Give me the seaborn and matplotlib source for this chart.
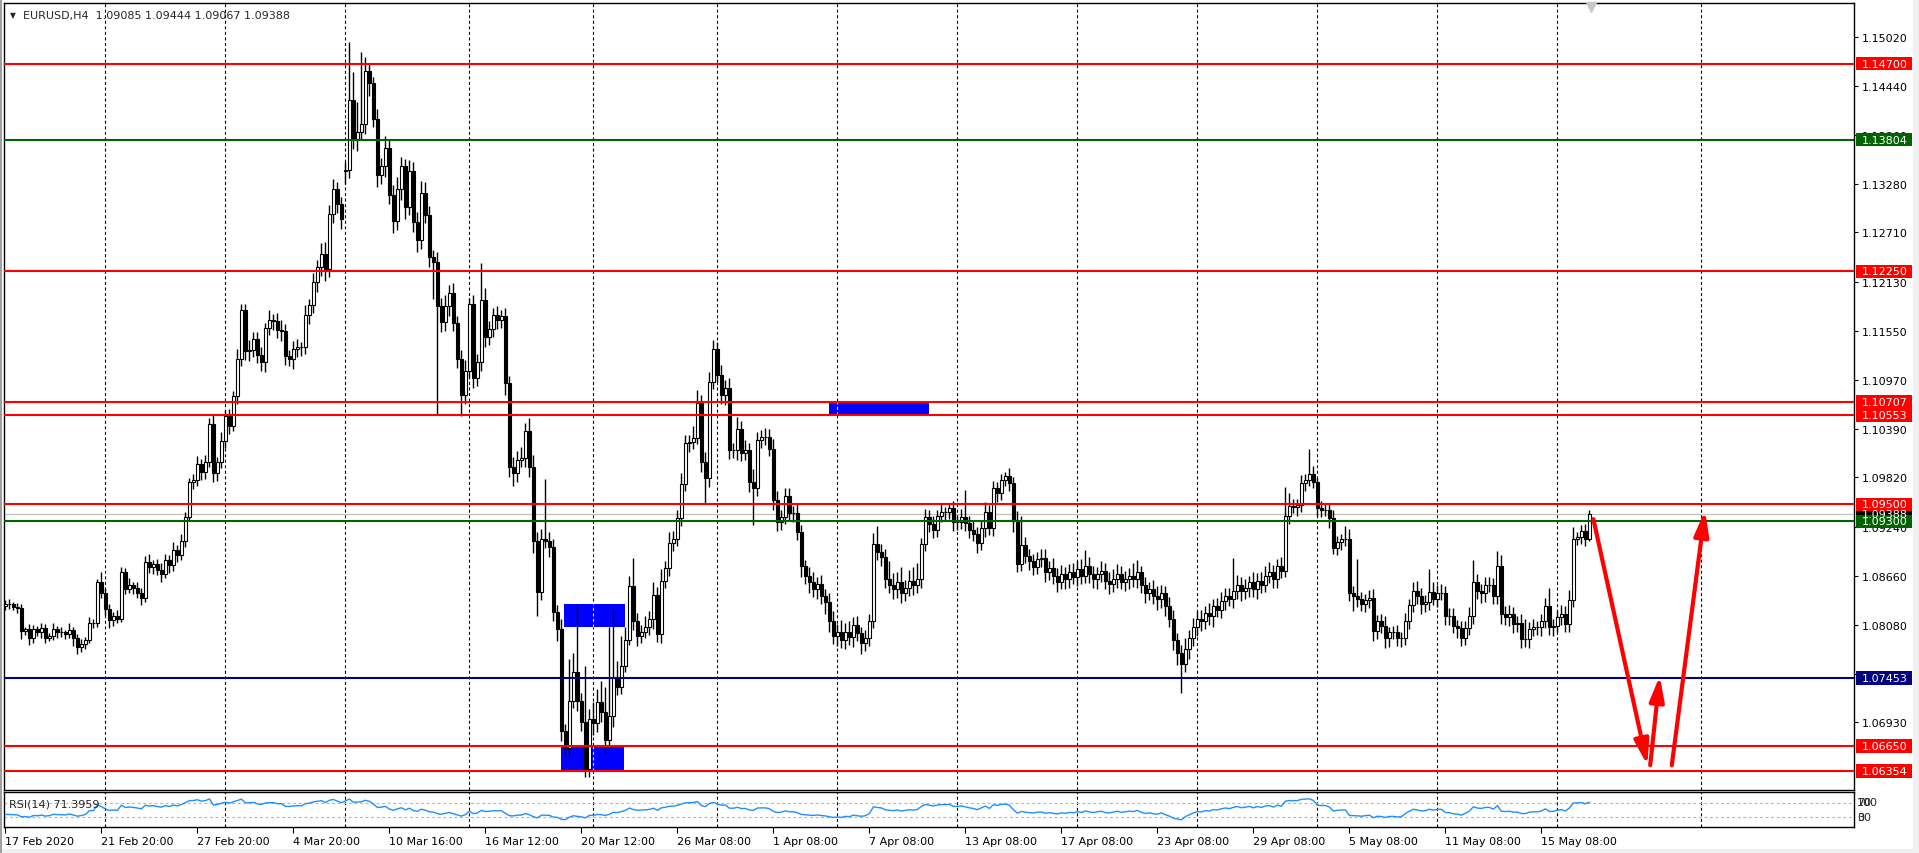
import numpy as np
import matplotlib
matplotlib.use("Agg")
import matplotlib.pyplot as plt
import matplotlib.transforms as mtransforms
from matplotlib.patches import Rectangle
import seaborn as sns

W, H = 1919, 854

# -- H4 candles, values in pips above 1.00000 (first bar is cut by the left edge) --
first_bar = -1
first_open = 830
gap_opens = {84: 1343}

close = [
    833, 832, 829, 828, 801, 803, 792, 803, 800, 804,
    793, 795, 803, 800, 799, 797, 802, 792, 782, 785,
    790, 810, 810, 858, 846, 827, 814, 819, 815, 870,
    850, 855, 852, 846, 840, 882, 876, 880, 873, 868,
    885, 879, 896, 890, 907, 935, 976, 979, 998, 988,
    1000, 1045, 987, 1000, 1025, 1054, 1043, 1078, 1122, 1179,
    1131, 1132, 1145, 1126, 1118, 1158, 1168, 1167, 1156, 1155,
    1125, 1122, 1133, 1136, 1136, 1173, 1185, 1213, 1230, 1245,
    1228, 1293, 1322, 1304, 1287, 1345, 1427, 1381, 1390, 1399,
    1462, 1447, 1405, 1339, 1349, 1371, 1315, 1285, 1322, 1349,
    1301, 1344, 1283, 1262, 1317, 1292, 1242, 1236, 1184, 1165,
    1184, 1200, 1164, 1122, 1079, 1108, 1187, 1099, 1118, 1191,
    1148, 1157, 1173, 1168, 1172, 1093, 994, 987, 1003, 1005,
    1037, 994, 907, 847, 909, 907, 900, 823, 803, 683,
    663, 718, 752, 718, 693, 638, 697, 692, 717, 705,
    672, 700, 745, 735, 760, 790, 854, 812, 795, 800,
    806, 815, 843, 797, 860, 875, 905, 909, 934, 974,
    1022, 1024, 1029, 1070, 1000, 981, 1095, 1134, 1103, 1079,
    1088, 1014, 1014, 1039, 1011, 1014, 977, 970, 1026, 1030,
    1030, 1015, 955, 929, 935, 960, 940, 940, 917, 877,
    866, 858, 850, 856, 842, 835, 812, 795, 800, 790,
    800, 794, 808, 798, 787, 792, 812, 903, 894, 888,
    862, 855, 850, 858, 845, 852, 860, 855, 862, 903,
    935, 927, 920, 936, 941, 941, 946, 929, 929, 935,
    928, 920, 915, 905, 922, 941, 922, 969, 963, 979,
    984, 975, 930, 880, 902, 889, 883, 876, 886, 887,
    870, 875, 866, 858, 868, 862, 870, 865, 874, 866,
    878, 868, 862, 868, 872, 860, 856, 862, 868, 858,
    862, 866, 862, 870, 855, 846, 850, 842, 838, 845,
    830, 815, 790, 775, 762, 780, 792, 805, 815, 812,
    822, 818, 830, 826, 836, 842, 838, 848, 855, 848,
    852, 858, 850, 860, 855, 866, 870, 862, 878, 872,
    936, 948, 947, 949, 975, 979, 986, 977, 946, 944,
    944, 934, 899, 906, 909, 909, 845, 842, 839, 833,
    837, 840, 801, 812, 807, 792, 799, 799, 792, 793,
    813, 831, 848, 842, 833, 835, 847, 839, 846, 846,
    819, 818, 807, 804, 793, 804, 819, 859, 848, 845,
    855, 855, 842, 878, 821, 817, 821, 809, 810, 791,
    791, 803, 806, 805, 812, 830, 805, 807, 817, 821,
    809, 837, 909, 912, 919, 909, 939,
]

wick_up = [
    4, 6, 3, 5, 4, 3, 6, 5, 4, 6,
    5, 3, 7, 4, 5, 3, 8, 4, 5, 6,
    4, 7, 5, 4, 12, 5, 6, 4, 7, 6,
    5, 8, 4, 6, 5, 7, 9, 5, 6, 8,
    7, 5, 10, 6, 8, 6, 5, 7, 9, 6,
    8, 7, 12, 6, 10, 8, 9, 6, 11, 8,
    7, 12, 9, 8, 10, 6, 11, 7, 9, 12,
    8, 7, 10, 9, 6, 12, 8, 10, 9, 14,
    15, 10, 12, 8, 9, 9, 69, 33, 35, 85,
    16, 9, 8, 12, 10, 14, 9, 12, 15, 11,
    9, 13, 10, 12, 15, 14, 10, 8, 12, 10,
    13, 9, 11, 8, 10, 12, 7, 10, 9, 44,
    14, 10, 9, 11, 8, 10, 9, 12, 10, 13,
    9, 15, 14, 10, 12, 71, 10, 9, 8, 12,
    8, 50, 23, 79, 10, 67, 12, 20, 15, 25,
    30, 105, 82, 20, 35, 15, 12, 33, 10, 8,
    12, 9, 15, 10, 14, 8, 12, 10, 9, 13,
    10, 8, 14, 15, 9, 12, 11, 10, 8, 12,
    9, 11, 8, 14, 10, 12, 9, 15, 10, 8,
    10, 9, 12, 11, 9, 9, 10, 8, 11, 9,
    8, 10, 12, 9, 11, 8, 10, 12, 9, 14,
    10, 12, 9, 11, 8, 10, 9, 13, 22, 9,
    10, 21, 14, 12, 18, 9, 13, 16, 19, 8,
    10, 8, 9, 7, 9, 6, 6, 8, 9, 10,
    32, 8, 10, 9, 10, 12, 8, 9, 8, 7,
    4, 9, 8, 12, 35, 10, 8, 9, 8, 10,
    10, 8, 12, 9, 11, 8, 10, 11, 9, 12,
    18, 10, 9, 8, 11, 9, 10, 12, 12, 9,
    10, 9, 15, 15, 8, 10, 9, 11, 12, 10,
    9, 11, 10, 8, 9, 12, 10, 11, 9, 10,
    8, 12, 9, 10, 11, 9, 10, 39, 12, 9,
    10, 8, 12, 9, 10, 11, 12, 9, 8, 10,
    35, 15, 9, 8, 10, 7, 30, 9, 4, 8,
    6, 8, 10, 7, 6, 16, 12, 9, 44, 8,
    7, 9, 10, 8, 9, 11, 7, 8, 9, 7,
    9, 8, 10, 12, 9, 8, 27, 11, 9, 10,
    8, 9, 10, 7, 9, 8, 10, 26, 9, 8,
    10, 9, 8, 17, 12, 9, 10, 8, 9, 11,
    24, 8, 9, 7, 9, 10, 21, 8, 9, 10,
    9, 12, 14, 6, 7, 8, 5,
]

wick_dn = [
    4, 5, 3, 6, 10, 5, 8, 6, 5, 7,
    6, 4, 5, 7, 5, 6, 4, 9, 8, 6,
    5, 4, 6, 5, 6, 8, 10, 7, 5, 4,
    6, 5, 8, 6, 9, 5, 7, 8, 6, 9,
    5, 10, 7, 8, 6, 7, 5, 8, 7, 9,
    8, 6, 10, 9, 7, 8, 10, 6, 9, 8,
    10, 12, 8, 9, 10, 12, 8, 11, 9, 12,
    10, 8, 12, 9, 11, 8, 10, 9, 12, 10,
    14, 9, 11, 10, 12, 15, 10, 12, 14, 10,
    12, 15, 10, 14, 11, 12, 10, 15, 11, 13,
    14, 10, 12, 14, 11, 10, 12, 43, 128, 11,
    10, 12, 9, 11, 24, 10, 8, 12, 9, 11,
    12, 10, 9, 11, 10, 14, 12, 15, 10, 9,
    11, 12, 14, 28, 10, 8, 12, 11, 14, 12,
    9, 10, 8, 12, 10, 9, 10, 14, 11, 12,
    15, 10, 12, 10, 9, 8, 6, 10, 12, 9,
    8, 10, 12, 9, 10, 8, 9, 10, 8, 9,
    8, 10, 9, 8, 12, 29, 10, 9, 8, 10,
    12, 10, 9, 11, 10, 8, 12, 44, 10, 9,
    10, 8, 12, 10, 9, 8, 10, 11, 9, 12,
    10, 12, 9, 11, 10, 14, 12, 10, 12, 9,
    11, 10, 12, 9, 14, 10, 9, 8, 10, 11,
    10, 9, 12, 10, 11, 9, 10, 12, 9, 10,
    8, 9, 10, 8, 7, 9, 8, 10, 9, 8,
    9, 10, 8, 12, 9, 10, 8, 9, 10, 8,
    7, 9, 12, 10, 9, 8, 10, 9, 8, 10,
    12, 9, 10, 11, 8, 12, 10, 9, 11, 10,
    9, 11, 10, 12, 9, 10, 12, 9, 11, 8,
    10, 12, 9, 11, 10, 12, 9, 10, 12, 10,
    11, 10, 12, 14, 34, 10, 12, 9, 10, 11,
    9, 10, 12, 9, 10, 11, 8, 10, 9, 12,
    10, 11, 9, 12, 10, 8, 9, 11, 10, 9,
    8, 9, 7, 10, 8, 9, 7, 8, 10, 9,
    8, 12, 7, 9, 10, 8, 9, 18, 10, 9,
    10, 9, 12, 10, 9, 11, 10, 8, 9, 10,
    9, 10, 8, 9, 12, 10, 9, 8, 10, 9,
    11, 10, 9, 12, 10, 9, 8, 10, 9, 11,
    10, 8, 9, 10, 12, 9, 10, 11, 9, 10,
    9, 10, 8, 9, 10, 8, 9, 10, 8, 9,
    10, 9, 8, 7, 9, 8, 2,
]

bar_info = "EURUSD,H4  1.09085 1.09444 1.09067 1.09388"
rsi_label = "RSI(14) 71.3959"
rsi_seed_gain, rsi_seed_loss = 5.0, 9.0

levels = [1.14700, 1.13804, 1.12250, 1.10707, 1.10553, 1.09500, 1.09300, 1.07453, 1.06650, 1.06354]
level_colors = ["#FF0000", "#006400", "#FF0000", "#FF0000", "#FF0000",
                "#FF0000", "#006400", "#000080", "#FF0000", "#FF0000"]
last_price = 1.09388

price_ticks = [1.15020, 1.14440, 1.13860, 1.13280, 1.12710, 1.12130, 1.11550, 1.10970,
               1.10390, 1.09820, 1.09240, 1.08660, 1.08080, 1.07500, 1.06930]

date_labels = ["17 Feb 2020", "21 Feb 20:00", "27 Feb 20:00", "4 Mar 20:00", "10 Mar 16:00",
               "16 Mar 12:00", "20 Mar 12:00", "26 Mar 08:00", "1 Apr 08:00", "7 Apr 08:00",
               "13 Apr 08:00", "17 Apr 08:00", "23 Apr 08:00", "29 Apr 08:00", "5 May 08:00",
               "11 May 08:00", "15 May 08:00"]

grid_bars = [24, 54, 84, 115, 146, 177, 207, 237, 267, 297, 327, 357, 387, 423]

# rectangles: bar from, bar to, price low, price high
zones = [(138.7, 153.9, 1.08059, 1.08324),
         (137.8, 153.7, 1.06354, 1.06650),
         (204.9, 229.9, 1.10553, 1.10707)]

# drawn arrows: (bar, price) start -> end
arrows = [((396.0, 1.09327), (409.5, 1.06424)),
          ((410.2, 1.06424), (412.6, 1.07478)),
          ((415.6, 1.06424), (423.9, 1.09428))]

assert len(close) == len(wick_up) == len(wick_dn)

# -- build OHLC --
c = np.array(close, float)
o = np.concatenate([[first_open], c[:-1]])
for b, v in gap_opens.items():
    o[b - first_bar] = v
hi = np.maximum(o, c) + np.array(wick_up)
lo = np.minimum(o, c) - np.array(wick_dn)
o, c, hi, lo = [1 + a / 1e4 for a in (o, c, hi, lo)]
x = np.arange(len(close)) + first_bar

# RSI(14), Wilder smoothing
g, l = rsi_seed_gain, rsi_seed_loss
rsi = []
prev = first_open
for v in close:
    d = v - prev
    g = (g * 13 + max(d, 0)) / 14
    l = (l * 13 + max(-d, 0)) / 14
    rsi.append(100 - 100 / (1 + g / l))
    prev = v

sns.set_theme(style="white")
plt.rcParams["font.family"] = ["DejaVu Sans"]
plt.rcParams["lines.scale_dashes"] = False

fig = plt.figure(figsize=(W / 100, H / 100), dpi=100, facecolor="white")


def fx(px):
    return px / W


def fy(py):
    return 1 - py / H


ax = fig.add_axes([fx(4), fy(791), fx(1854) - fx(4), fy(4) - fy(791)])
rx = fig.add_axes([fx(4), fy(828.3), fx(1854) - fx(4), fy(793.3) - fy(828.3)], sharex=ax)

px_per_unit = 8475
y_top = 1.15020 + (37.67 - 4) / px_per_unit
y_bot = 1.15020 - (791 - 37.67) / px_per_unit
xmin, xmax = (4 - 9.4) / 4, (1854 - 9.4) / 4

for a in (ax, rx):
    a.set_facecolor("white")
    for s in a.spines.values():
        s.set_color("black")
        s.set_linewidth(1)
    for gb in grid_bars:
        a.axvline(gb, color="black", lw=0.8, linestyle=(0, (2.2, 1.8)), zorder=0.8)

ax.set_xlim(xmin, xmax)
ax.set_ylim(y_bot, y_top)

# zones with the grid showing through in yellow
for x0, x1, p0, p1 in zones:
    ax.add_patch(Rectangle((x0, p0), x1 - x0, p1 - p0, facecolor="#0000FF", edgecolor="none", zorder=1))
    for gb in grid_bars:
        if x0 < gb < x1:
            ax.vlines(gb, p0, p1, colors="#FFFF00", lw=0.8, linestyles=[(0, (2.2, 1.8))], zorder=1.2)

# candles
up = c >= o
ax.vlines(x, lo, hi, colors="black", lw=1, zorder=3)
ax.bar(x[up], (c - o)[up], bottom=o[up], width=0.55, facecolor="white",
       edgecolor="black", linewidth=0.8, zorder=4)
ax.bar(x[~up], (o - c)[~up], bottom=c[~up], width=0.55, facecolor="black",
       edgecolor="black", linewidth=0.8, zorder=4)

# horizontal levels
ax.axhline(last_price, color="#C0C0C0", lw=0.9, zorder=2)
for lv, col in zip(levels, level_colors):
    ax.axhline(lv, color=col, lw=1.5, zorder=5)

for (x0, y0), (x1, y1) in arrows:
    ax.annotate("", xy=(x1, y1), xytext=(x0, y0), annotation_clip=False,
                arrowprops=dict(arrowstyle="-|>,head_length=0.75,head_width=0.22",
                                color="#FF0000", lw=3, mutation_scale=20,
                                shrinkA=0, shrinkB=0), zorder=6)

# price scale on the right
ax.yaxis.tick_right()
ax.set_yticks(price_ticks)
ax.set_yticklabels([f"{p:.5f}" for p in price_ticks])
ax.tick_params(axis="y", length=3, width=0.8, pad=2.6, labelsize=8, colors="black", direction="out")
ax.tick_params(axis="x", bottom=False, labelbottom=False)
ax.set_xlabel("")
ax.set_ylabel("")

tr = mtransforms.blended_transform_factory(fig.transFigure, ax.transData)
hh = 6.7 / px_per_unit
box_list = [(last_price, "black")] + list(zip(levels, level_colors))
for p, col in box_list:
    ax.add_patch(Rectangle((fx(1856), p - hh), fx(1912) - fx(1856), 2 * hh, transform=tr,
                           facecolor=col, edgecolor="none", clip_on=False, zorder=7))
    ax.text(fx(1861.5), p, f"{p:.5f}", transform=tr, color="white", fontsize=8,
            va="center", ha="left", clip_on=False, zorder=8)

# shift marker at the top
ax.plot([395.4], [1 - 3.5 / 787], marker="v", ms=7, color="#C8C8C8",
        transform=mtransforms.blended_transform_factory(ax.transData, ax.transAxes),
        clip_on=False, zorder=9)

fig.text(fx(10), fy(15.5), "\u25BC", fontsize=5.5, va="center", ha="left")
fig.text(fx(23), fy(16), bar_info, fontsize=8, va="center", ha="left")

# RSI panel
sns.lineplot(x=x, y=rsi, ax=rx, color="#1E90FF", linewidth=1, zorder=3)
rx.set_ylim(0, 100)
for lvl in (70, 30):
    rx.axhline(lvl, color="#B4B4B4", lw=0.8, linestyle=(0, (2, 2)), zorder=1)
rx.set_yticks([])
rx.set_ylabel("")
rx.text((fx(9) - fx(4)) / (fx(1854) - fx(4)), 69, rsi_label,
        transform=mtransforms.blended_transform_factory(rx.transAxes, rx.transData),
        fontsize=8, va="center", ha="left", zorder=5)
ry = mtransforms.blended_transform_factory(fig.transFigure, rx.transData)
for txt, val in (("100", 72), ("70", 72), ("30", 29), ("0", 29)):
    rx.text(fx(1857.3), val, txt, transform=ry, fontsize=8, va="center", ha="left", clip_on=False)

rx.set_xticks([24 * k - 1.2 for k in range(len(date_labels))])
rx.set_xticklabels(date_labels, ha="left")
rx.tick_params(axis="x", length=4, width=0.8, pad=2.5, labelsize=8, colors="black",
               direction="out", bottom=True)
rx.set_xlim(xmin, xmax)

# window edges
fig.patches.append(Rectangle((0, 0), 1, 4 / H, transform=fig.transFigure,
                             facecolor="#F0F0F0", edgecolor="none"))
fig.patches.append(Rectangle((fx(1913), 0), 1 - fx(1913), 1, transform=fig.transFigure,
                             facecolor="#F0F0F0", edgecolor="none"))
fig.patches.append(Rectangle((0, 0), fx(2), 1, transform=fig.transFigure,
                             facecolor="#A0A0A0", edgecolor="none"))

fig.savefig("out.png", dpi=100, facecolor="white")
print("saved out.png")
